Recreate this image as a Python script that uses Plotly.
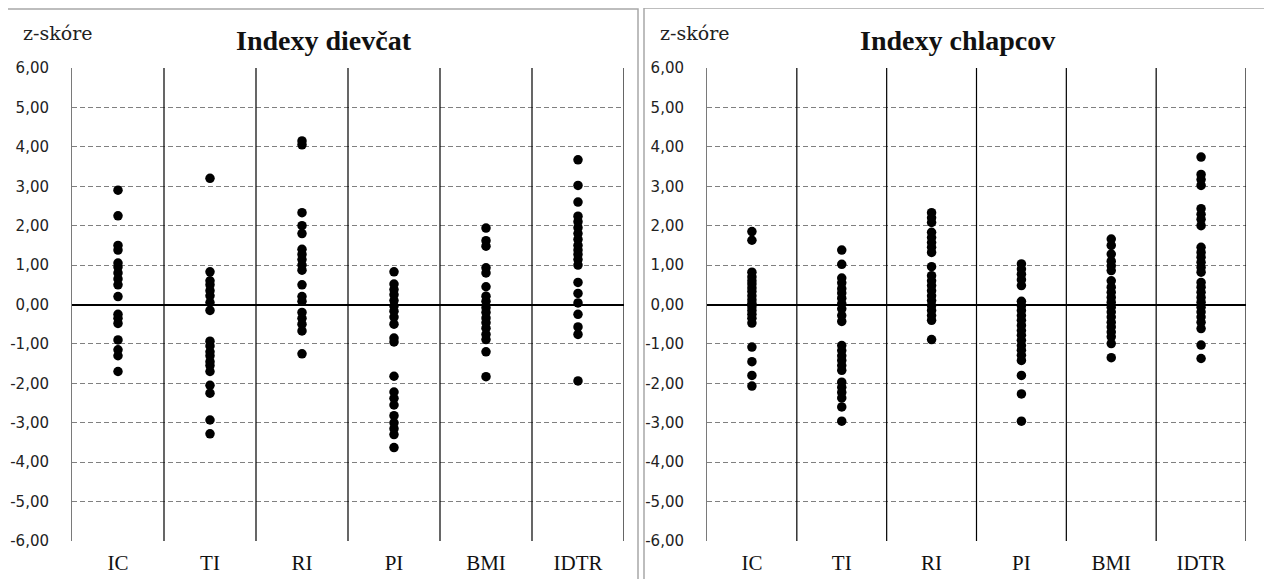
import plotly.graph_objects as go

# Page is 1272x579; the HTML body has an 8px margin at top/left
PAGE_W, PAGE_H = 1272, 579
OFF = 8
W, H = PAGE_W - OFF, PAGE_H - OFF

categories = ["IC", "TI", "RI", "PI", "BMI", "IDTR"]

# z-scores, girls (Indexy dievčat)
girls_IC = [2.9, 2.25, 1.5, 1.38, 1.05, 0.95, 0.8, 0.65, 0.5, 0.2, -0.25, -0.35, -0.48, -0.9, -1.15, -1.3, -1.7]
girls_TI = [3.2, 0.83, 0.6, 0.5, 0.35, 0.22, 0.05, -0.15, -0.93, -1.05, -1.2, -1.3, -1.45, -1.55, -1.7, -2.05, -2.25, -2.93, -3.28]
girls_RI = [4.15, 4.05, 2.33, 2.0, 1.8, 1.4, 1.27, 1.14, 1.0, 0.87, 0.5, 0.2, 0.08, -0.2, -0.35, -0.5, -0.67, -1.25]
girls_PI = [0.83, 0.52, 0.38, 0.25, 0.1, -0.04, -0.17, -0.32, -0.5, -0.85, -0.95, -1.82, -2.22, -2.38, -2.55, -2.82, -3.0, -3.15, -3.3, -3.63]
girls_BMI = [1.94, 1.62, 1.48, 0.93, 0.8, 0.45, 0.21, 0.08, -0.08, -0.2, -0.34, -0.46, -0.6, -0.76, -0.89, -1.2, -1.83]
girls_IDTR = [3.67, 3.02, 2.6, 2.24, 2.1, 1.95, 1.8, 1.65, 1.5, 1.38, 1.27, 1.14, 1.0, 0.56, 0.28, 0.04, -0.25, -0.57, -0.76, -1.94]

# z-scores, boys (Indexy chlapcov)
boys_IC = [1.85, 1.63, 0.82, 0.7, 0.6, 0.52, 0.42, 0.33, 0.22, 0.12, 0.03, -0.06, -0.15, -0.25, -0.35, -0.47, -1.08, -1.45, -1.8, -2.07]
boys_TI = [1.38, 1.02, 0.67, 0.55, 0.4, 0.29, 0.16, 0.02, -0.11, -0.28, -0.43, -1.04, -1.17, -1.3, -1.42, -1.55, -1.67, -1.97, -2.1, -2.23, -2.37, -2.6, -2.96]
boys_RI = [2.33, 2.2, 2.08, 1.83, 1.7, 1.57, 1.45, 1.32, 0.96, 0.73, 0.6, 0.48, 0.35, 0.22, 0.1, -0.03, -0.15, -0.28, -0.4, -0.89]
boys_PI = [1.03, 0.9, 0.77, 0.63, 0.48, 0.08, -0.03, -0.15, -0.28, -0.4, -0.53, -0.66, -0.78, -0.91, -1.04, -1.16, -1.29, -1.42, -1.8, -2.27, -2.96]
boys_BMI = [1.66, 1.5, 1.28, 1.1, 0.98, 0.86, 0.6, 0.44, 0.31, 0.18, 0.06, -0.07, -0.19, -0.32, -0.45, -0.57, -0.7, -0.82, -0.99, -1.35]
boys_IDTR = [3.74, 3.3, 3.17, 3.02, 2.43, 2.29, 2.16, 2.0, 1.45, 1.32, 1.2, 1.07, 0.94, 0.82, 0.56, 0.44, 0.31, 0.18, 0.06, -0.07, -0.19, -0.32, -0.45, -0.61, -1.03, -1.37]

y_tick_values = [6, 5, 4, 3, 2, 1, 0, -1, -2, -3, -4, -5, -6]
y_tick_labels = ["6,00", "5,00", "4,00", "3,00", "2,00", "1,00", "0,00",
                 "-1,00", "-2,00", "-3,00", "-4,00", "-5,00", "-6,00"]

panel_titles = ["Indexy dievčat", "Indexy chlapcov"]
y_axis_title = "z-skóre"

girls = [girls_IC, girls_TI, girls_RI, girls_PI, girls_BMI, girls_IDTR]
boys = [boys_IC, boys_TI, boys_RI, boys_PI, boys_BMI, boys_IDTR]


def px_x(v):
    return (v - OFF) / W


def px_y(v):
    return 1 - (v - OFF) / H


fig = go.Figure()

panels = [
    dict(data=girls, xa="x", ya="y", xdom=[px_x(72), px_x(624)], title_x=324, frame=(7, 638, 9)),
    dict(data=boys, xa="x2", ya="y2", xdom=[px_x(707), px_x(1246)], title_x=957, frame=(644, 1268, 8)),
]

ydom = [px_y(541), px_y(68)]

for p_i, p in enumerate(panels):
    for cat, vals in zip(categories, p["data"]):
        fig.add_trace(go.Scatter(
            x=[cat] * len(vals), y=vals, mode="markers",
            marker=dict(color="black", size=9.5, line=dict(width=0)),
            xaxis=p["xa"], yaxis=p["ya"], showlegend=False,
            hovertemplate=cat + ": %{y:.2f}<extra></extra>",
        ))
    xkey = "xaxis" if p["xa"] == "x" else "xaxis2"
    ykey = "yaxis" if p["ya"] == "y" else "yaxis2"
    fig.update_layout(**{
        xkey: dict(
            domain=p["xdom"], anchor=p["ya"], type="category",
            categoryorder="array", categoryarray=categories,
            range=[-0.5, len(categories) - 0.5], automargin=False,
            showgrid=False, zeroline=False, showline=False, ticks="",
            tickfont=dict(family="Liberation Serif", size=21, color="#111"),
            ticklabelstandoff=7, fixedrange=True,
        ),
        ykey: dict(
            domain=ydom, anchor=p["xa"], range=[-6, 6], automargin=False,
            tickmode="array", tickvals=y_tick_values, ticktext=y_tick_labels,
            showgrid=True, gridcolor="#808080", gridwidth=1, griddash="5px,3px",
            zeroline=True, zerolinecolor="black", zerolinewidth=2.4,
            showline=True, linecolor="#7a7a7a", linewidth=1,
            ticks="", ticklabelstandoff=19,
            tickfont=dict(family="DejaVu Sans", size=15, color="#222"),
            fixedrange=True,
        ),
    })
    # category separators
    for k in range(1, len(categories) + 1):
        fig.add_shape(type="line", xref=p["xa"], yref=p["ya"],
                      x0=k - 0.5, x1=k - 0.5, y0=-6, y1=6,
                      line=dict(color="black", width=1.2), layer="above")
    # frame
    fx0, fx1, fy = p["frame"]
    fig.add_shape(type="rect", xref="paper", yref="paper",
                  x0=px_x(fx0), x1=px_x(fx1), y0=-0.05, y1=px_y(fy),
                  line=dict(color="#a8a8a8", width=1.5), fillcolor="rgba(0,0,0,0)")
    # title
    fig.add_annotation(xref="paper", yref="paper", x=px_x(p["title_x"]), y=px_y(41),
                       text="<b>" + panel_titles[p_i] + "</b>", showarrow=False,
                       xanchor="center", yanchor="middle",
                       font=dict(family="Liberation Serif", size=28, color="#111"))
    # y-axis label
    fig.add_annotation(xref="paper", yref="paper", x=px_x(fx0 + 14), y=px_y(33),
                       text=y_axis_title, showarrow=False,
                       xanchor="left", yanchor="middle",
                       font=dict(family="DejaVu Serif", size=19, color="#222"))

fig.update_layout(
    width=W, height=H, autosize=False,
    margin=dict(l=0, r=0, t=0, b=0, pad=0, autoexpand=False),
    paper_bgcolor="white", plot_bgcolor="white",
    showlegend=False,
)

fig.write_html("out.html")
